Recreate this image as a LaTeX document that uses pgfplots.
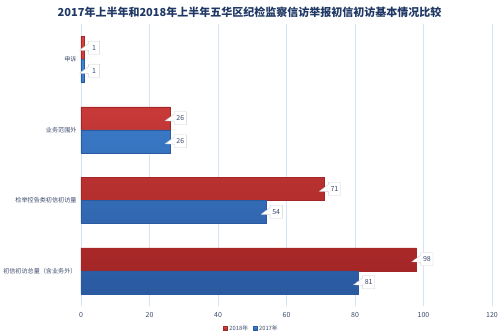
\documentclass[border=0pt]{standalone}
\usepackage{pgfplots}
\pgfplotsset{compat=1.18}
\usepackage{fontspec}
\setmainfont{Noto Sans CJK SC}
\usetikzlibrary{shapes.callouts}
\definecolor{txt}{RGB}{59,74,107}
\definecolor{ttl}{RGB}{31,56,100}
\definecolor{gridc}{RGB}{214,228,242}
\definecolor{redtop}{RGB}{214,66,64}
\definecolor{redbot}{RGB}{164,38,38}
\definecolor{bluetop}{RGB}{64,132,212}
\definecolor{bluebot}{RGB}{42,90,160}
\begin{document}
\begin{tikzpicture}
\path[use as bounding box] (-81pt,-27pt) rectangle (419pt,306pt);
\begin{axis}[
  at={(0pt,0pt)}, anchor=south west,
  scale only axis, width=411pt, height=282pt,
  xbar, bar width=23pt,
  xmin=0, xmax=120, ymin=-0.5, ymax=3.5,
  xtick={0,20,...,120},
  ytick={0,1,2,3},
  yticklabels={初信初访总量（含业务外）,检举控告类初信初访量,业务范围外,申诉},
  xmajorgrids, grid style={gridc, line width=0.8pt},
  axis line style={draw=none},
  major tick length=0pt,
  tick label style={text=txt},
  xticklabel style={font=\fontsize{7}{8}\selectfont, yshift=-3pt},
  yticklabel style={font=\fontsize{6.1}{8}\selectfont, xshift=-1pt},
  /pgf/number format/assume math mode=true,
  title={\bfseries\fontsize{11}{13}\selectfont 2017年上半年和2018年上半年五华区纪检监察信访举报初信初访基本情况比较},
  title style={text=ttl, at={(0.41,1)}, anchor=center, yshift=6pt},
  nodes near coords,
  every node near coord/.append style={font=\fontsize{7}{8}\selectfont, text=txt, fill=white, draw={black!18},
    rectangle callout, callout relative pointer={(-9pt,-1.5pt)}, anchor=west, xshift=4pt, inner sep=2.2pt, minimum height=13pt, minimum width=11pt},
  legend style={at={(0.415,0)}, anchor=north, yshift=-15pt, draw=none, font=\fontsize{5.8}{6}\selectfont, text=txt,
    legend columns=2, /tikz/every even column/.append style={column sep=3pt}},
  legend image code/.code={\fill[#1] (0pt,-1.8pt) rectangle (3.6pt,1.8pt);},
]
\addplot[bar shift=11.5pt, draw=redbot, top color=redtop, bottom color=redbot, legend image post style={fill=redtop}] coordinates {(98,0) (71,1) (26,2) (1,3)};
\addplot[bar shift=-11.5pt, draw=bluebot, top color=bluetop, bottom color=bluebot, legend image post style={fill=bluetop}] coordinates {(81,0) (54,1) (26,2) (1,3)};
\legend{2018年,2017年}
\end{axis}
\end{tikzpicture}
\end{document}
